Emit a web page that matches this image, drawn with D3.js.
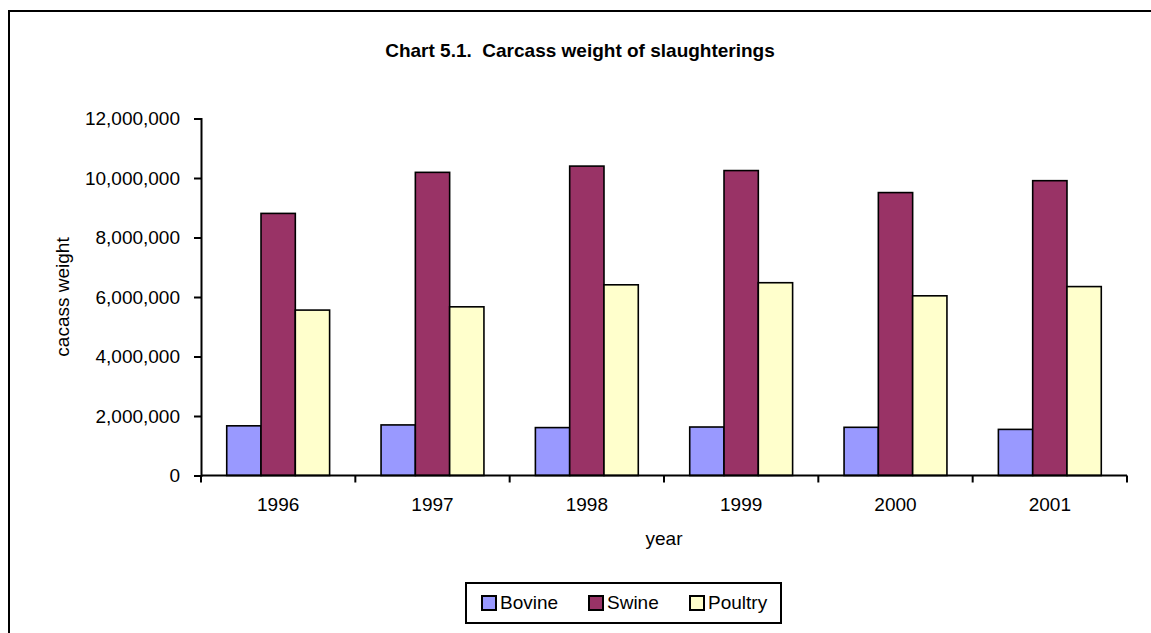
<html>
  <head>
    <meta charset="utf-8"/>
    <style>
      body {
        margin: 0;
        background: white;
      }
      text {
        font-family: Arial, "Liberation Sans", sans-serif;
        fill: black;
      }
    </style>
    <script src="https://d3js.org/d3.v7.min.js"></script>
  </head>
  <body>
    <script>
    var width = 1151, height = 633;

    var years = ["1996", "1997", "1998", "1999", "2000", "2001"];
    var seriesNames = ["Bovine", "Swine", "Poultry"];
    var bovine = [1670000, 1700000, 1610000, 1630000, 1620000, 1550000];
    var swine = [8810000, 10190000, 10400000, 10250000, 9510000, 9910000];
    var poultry = [5560000, 5670000, 6410000, 6480000, 6040000, 6350000];
    var yTicks = [0, 2000000, 4000000, 6000000, 8000000, 10000000, 12000000];
    var colors = ["#9999ff", "#993366", "#ffffcc"];

    var values = [bovine, swine, poultry];

    var svg = d3.select("body").append("svg")
      .attr("width", width).attr("height", height);

    // outer chart frame (runs off the right and bottom edges)
    svg.append("rect")
      .attr("x", 9).attr("y", 11)
      .attr("width", 1300).attr("height", 800)
      .attr("fill", "none").attr("stroke", "black").attr("stroke-width", 2);

    var plotLeft = 201, plotRight = 1127, plotTop = 118.5, plotBottom = 475.5;

    var x0 = d3.scaleBand().domain(years).range([plotLeft, plotRight]);
    var cw = x0.bandwidth();
    var x1 = d3.scaleBand().domain(seriesNames).range([cw / 6, cw * 5 / 6]);
    var y = d3.scaleLinear().domain([0, 12000000]).range([plotBottom, plotTop]);

    svg.append("text")
      .attr("x", 580).attr("y", 57)
      .attr("text-anchor", "middle")
      .style("font-size", "19px").style("font-weight", "bold")
      .style("white-space", "pre")
      .text("Chart 5.1.  Carcass weight of slaughterings");

    // bars
    var groups = svg.selectAll("g.year")
      .data(years).enter().append("g")
      .attr("class", "year")
      .attr("transform", d => "translate(" + x0(d) + ",0)");

    groups.selectAll("rect")
      .data((d, i) => seriesNames.map((s, j) => ({s: s, j: j, v: values[j][i]})))
      .enter().append("rect")
      .attr("x", d => x1(d.s))
      .attr("y", d => y(d.v))
      .attr("width", x1.bandwidth())
      .attr("height", d => plotBottom - y(d.v))
      .attr("fill", d => colors[d.j])
      .attr("stroke", "black").attr("stroke-width", 1.6);

    // y axis
    var yAxis = svg.append("g")
      .attr("transform", "translate(" + plotLeft + ",0)")
      .call(d3.axisLeft(y).tickValues(yTicks).tickSize(7).tickPadding(14)
        .tickFormat(d3.format(",")));
    yAxis.select(".domain").attr("stroke-width", 2);
    yAxis.selectAll(".tick line").attr("stroke-width", 2);
    yAxis.selectAll("text").style("font-size", "19px");

    // x axis with ticks between categories
    var xAxis = svg.append("g")
      .attr("transform", "translate(0," + plotBottom + ")");
    xAxis.append("line")
      .attr("x1", plotLeft).attr("x2", plotRight)
      .attr("stroke", "black").attr("stroke-width", 2);
    var edges = years.map(d => x0(d)).concat([plotRight]);
    xAxis.selectAll("line.tk")
      .data(edges).enter().append("line")
      .attr("class", "tk")
      .attr("x1", d => d).attr("x2", d => d)
      .attr("y1", 0).attr("y2", 7)
      .attr("stroke", "black").attr("stroke-width", 2);
    xAxis.selectAll("text")
      .data(years).enter().append("text")
      .attr("x", d => x0(d) + cw / 2)
      .attr("y", 35)
      .attr("text-anchor", "middle")
      .style("font-size", "19px")
      .text(d => d);

    svg.append("text")
      .attr("x", (plotLeft + plotRight) / 2).attr("y", 545)
      .attr("text-anchor", "middle")
      .style("font-size", "19px")
      .text("year");

    svg.append("text")
      .attr("transform", "translate(69," + (plotTop + plotBottom) / 2 + ") rotate(-90)")
      .attr("text-anchor", "middle")
      .style("font-size", "19px")
      .text("cacass weight");

    // legend
    var legend = svg.append("g");
    legend.append("rect")
      .attr("x", 466).attr("y", 583)
      .attr("width", 315).attr("height", 40)
      .attr("fill", "white").attr("stroke", "black").attr("stroke-width", 2);
    var legX = [482, 589, 690];
    var items = legend.selectAll("g.item")
      .data(seriesNames).enter().append("g")
      .attr("class", "item")
      .attr("transform", (d, i) => "translate(" + legX[i] + ",596)");
    items.append("rect")
      .attr("width", 14).attr("height", 14)
      .attr("fill", (d, i) => colors[i])
      .attr("stroke", "black").attr("stroke-width", 2);
    items.append("text")
      .attr("x", 18).attr("y", 13)
      .style("font-size", "19px")
      .text(d => d);
    </script>
  </body>
</html>
